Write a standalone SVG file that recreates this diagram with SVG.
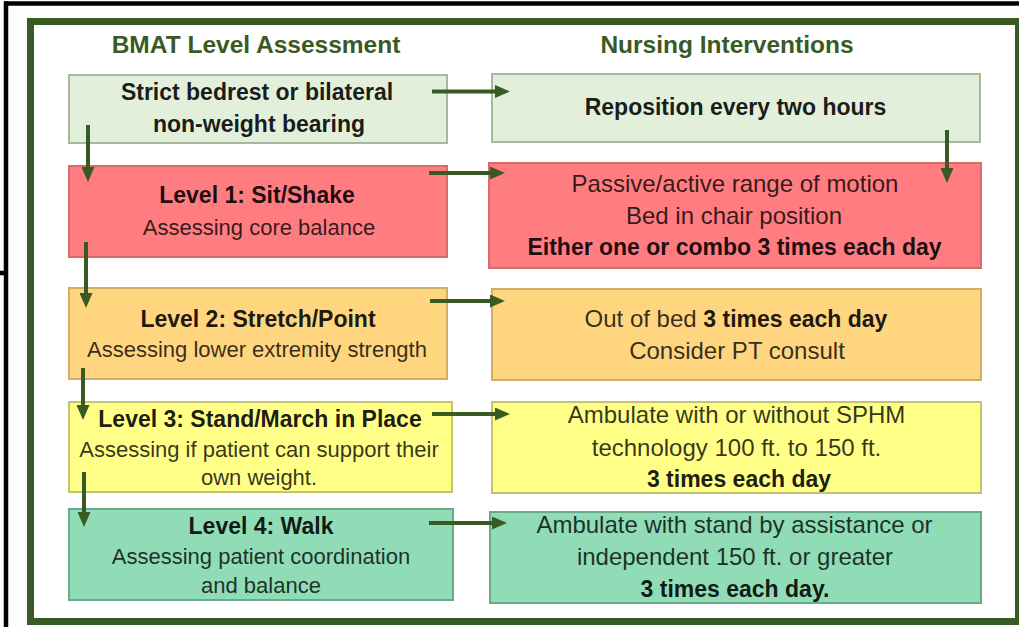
<svg xmlns="http://www.w3.org/2000/svg" width="1019" height="627" viewBox="0 0 1019 627">
<defs>
<style>
text{font-family:"Liberation Sans",Arial,sans-serif;text-anchor:middle}
.h{font-size:24.5px;font-weight:bold;fill:#3a5a24}
.b{font-size:23px;font-weight:bold;fill:#000;fill-opacity:.9}
.r{font-size:22px;fill:#000;fill-opacity:.8}
.rr{font-size:24px;fill:#000;fill-opacity:.8}
.box{stroke-width:2}
.g{fill:#e2efda;stroke:#a8b89c}
.red{fill:#ff7c80;stroke:#d86a6c}
.or{fill:#ffd580;stroke:#cfae68}
.ye{fill:#ffff88;stroke:#c4c46e}
.te{fill:#8fdcb6;stroke:#6aa98a}
.c{stroke:#3a5a24;stroke-width:4;fill:none;marker-end:url(#ah)}
.frame{stroke:#000;stroke-width:4.5;fill:none}
</style>
<marker id="ah" markerUnits="userSpaceOnUse" markerWidth="15" markerHeight="13" refX="2" refY="6.5" orient="auto"><path d="M0,0 L15,6.5 L0,13 z" fill="#3a5a24"/></marker>
</defs>
<rect x="0" y="0" width="1019" height="627" fill="#fdfdfb"/>
<g id="outer-frame">
<line class="frame" x1="4" y1="3.5" x2="1019" y2="3.5"/>
<line class="frame" x1="6" y1="1.5" x2="6" y2="627"/>
<line class="frame" x1="0" y1="273" x2="7" y2="273"/>
</g>
<rect id="green-frame" x="30.5" y="21.5" width="988" height="600" fill="#ffffff" stroke="#3a5a24" stroke-width="7"/>
<g id="headers">
<text class="h" x="256" y="53">BMAT Level Assessment</text>
<text class="h" x="727" y="53">Nursing Interventions</text>
</g>
<g id="bedrest">
<rect class="box g" x="69" y="75" width="378" height="68"/>
<text class="b" x="257" y="100">Strict bedrest or bilateral</text>
<text class="b" x="259" y="132">non-weight bearing</text>
</g>
<g id="level1">
<rect class="box red" x="69" y="166" width="378" height="91"/>
<text class="b" x="257" y="203">Level 1: Sit/Shake</text>
<text class="r" x="259" y="235">Assessing core balance</text>
</g>
<g id="level2">
<rect class="box or" x="69" y="288" width="378" height="91"/>
<text class="b" x="258" y="327">Level 2: Stretch/Point</text>
<text class="r" x="257" y="357">Assessing lower extremity strength</text>
</g>
<g id="level3">
<rect class="box ye" x="69" y="402" width="383" height="90"/>
<text class="b" x="260" y="427">Level 3: Stand/March in Place</text>
<text class="r" x="259" y="457">Assessing if patient can support their</text>
<text class="r" x="259" y="485">own weight.</text>
</g>
<g id="level4">
<rect class="box te" x="69" y="509" width="384" height="91"/>
<text class="b" x="261" y="534">Level 4: Walk</text>
<text class="r" x="261" y="564">Assessing patient coordination</text>
<text class="r" x="261" y="593">and balance</text>
</g>
<g id="reposition">
<rect class="box g" x="492" y="74" width="488" height="68"/>
<text class="b" x="735.5" y="115">Reposition every two hours</text>
</g>
<g id="intervention1">
<rect class="box red" x="489" y="163" width="492" height="105"/>
<text class="rr" x="735" y="192">Passive/active range of motion</text>
<text class="rr" x="734" y="224">Bed in chair position</text>
<text class="b" x="734.5" y="255">Either one or combo 3 times each day</text>
</g>
<g id="intervention2">
<rect class="box or" x="492" y="289" width="489" height="91"/>
<text x="736" y="327"><tspan class="rr">Out of bed </tspan><tspan class="b">3 times each day</tspan></text>
<text class="rr" x="737" y="359">Consider PT consult</text>
</g>
<g id="intervention3">
<rect class="box ye" x="492" y="402" width="489" height="91"/>
<text class="rr" x="736.5" y="423">Ambulate with or without SPHM</text>
<text class="rr" x="736.5" y="456">technology 100 ft. to 150 ft.</text>
<text class="b" x="739" y="487">3 times each day</text>
</g>
<g id="intervention4">
<rect class="box te" x="490" y="512" width="491" height="91"/>
<text class="rr" x="734.5" y="533">Ambulate with stand by assistance or</text>
<text class="rr" x="735" y="565">independent 150 ft. or greater</text>
<text class="b" x="735" y="597">3 times each day.</text>
</g>
<g id="connectors">
<line class="c" x1="432" y1="91.5" x2="497" y2="91.5"/>
<line class="c" x1="429" y1="173" x2="492" y2="173"/>
<line class="c" x1="430" y1="301" x2="492" y2="301"/>
<line class="c" x1="432" y1="414" x2="497" y2="414"/>
<line class="c" x1="429" y1="523" x2="494" y2="523"/>
<line class="c" x1="88" y1="125" x2="88" y2="169"/>
<line class="c" x1="86" y1="242" x2="86" y2="295"/>
<line class="c" x1="83" y1="368" x2="83" y2="407"/>
<line class="c" x1="84" y1="472" x2="84" y2="514"/>
<line class="c" x1="947" y1="130" x2="947" y2="170"/>
</g>
</svg>
